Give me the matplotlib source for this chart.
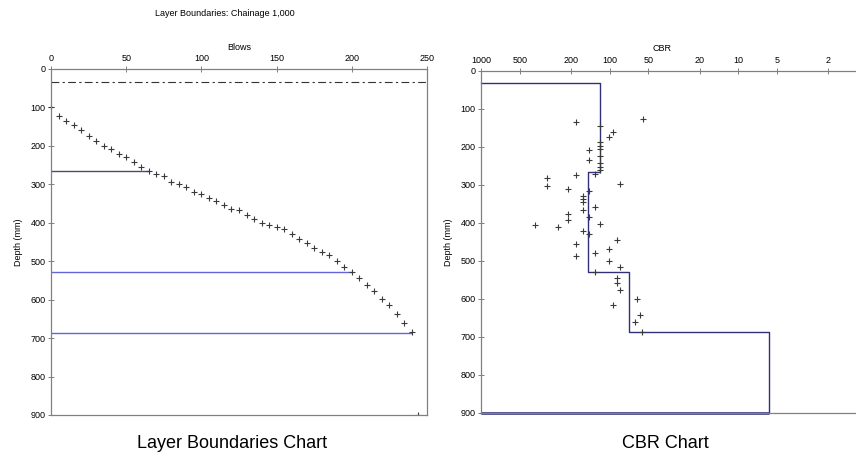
"""
DCP layer boundaries and CBR profile, chainage 1,000.
Left: cumulative blows vs depth with layer boundaries.
Right: CBR per reading (log scale, reversed) with layer CBR steps.
"""

import matplotlib.pyplot as plt
from matplotlib.ticker import FixedLocator, NullLocator

plt.rcParams["font.family"] = ["Liberation Sans", "DejaVu Sans"]

# ---------------------------------------------------------------------------
# Data
# ---------------------------------------------------------------------------
blows = [0, 5, 10, 15, 20, 25, 30, 35, 40, 45, 50, 55, 60, 65, 70, 75, 80,
         85, 90, 95, 100, 105, 110, 115, 120, 125, 130, 135, 140, 145, 150,
         155, 160, 165, 170, 175, 180, 185, 190, 195, 200, 205, 210, 215,
         220, 225, 230, 235, 240]
blow_depth = [100, 123, 134, 146, 158, 174, 188, 199, 209, 220, 230, 243,
              255, 265, 274, 278, 294, 300, 307, 319, 326, 335, 344, 355,
              365, 368, 380, 389, 400, 406, 410, 417, 429, 441, 452, 465,
              476, 485, 500, 516, 528, 543, 561, 577, 597, 615, 637, 661,
              685]
end_blows = [244]
end_depth = [900]

surface_depth = 33
boundary_depth = [265, 528, 686]
boundary_blows = [65, 200, 240]
boundary_colors = ["#4a4a78", "#6464dc", "#6464dc"]

cbr_values = [182, 55, 119, 95, 102, 119, 119, 119, 144, 119, 144, 119, 119,
              119, 130, 182, 308, 308, 210, 83, 144, 160, 160, 160, 130, 160,
              210, 210, 144, 380, 250, 119, 160, 144, 88, 182, 102, 130, 182,
              102, 83, 130, 88, 88, 83, 61, 95, 58, 63, 56]
cbr_depth = [133, 126, 145, 160, 174, 188, 197, 204, 209, 224, 234, 242, 252,
             260, 270, 274, 281, 303, 311, 297, 317, 329, 338, 346, 358, 367,
             375, 391, 384, 405, 411, 403, 421, 430, 446, 454, 469, 480, 488,
             501, 517, 529, 545, 559, 577, 600, 616, 641, 661, 687]

layer_top = [31, 266, 530, 688]
layer_bottom = [266, 530, 688, 900]
layer_cbr = [119, 148, 70.5, 5.8]

cbr_ticks = [1000, 500, 200, 100, 50, 20, 10, 5, 2]
depth_ticks = [0, 100, 200, 300, 400, 500, 600, 700, 800, 900]

SPINE = "#808080"
MARK = "#3a3a3a"
NAVY = "#30307a"
SMALL = 6.5

fig = plt.figure(figsize=(8.56, 4.59), dpi=100)


def style_axes(ax):
    for side in ax.spines.values():
        side.set_color(SPINE)
        side.set_linewidth(0.9)
    ax.xaxis.tick_top()
    ax.xaxis.set_label_position("top")
    ax.tick_params(axis="both", which="major", direction="inout", length=4,
                   width=0.7, color=SPINE, labelsize=SMALL, pad=2)
    ax.yaxis.set_major_locator(FixedLocator(depth_ticks))
    ax.set_ylim(900, 0)


# ---------------------------------------------------------------------------
# Left: layer boundaries
# ---------------------------------------------------------------------------
ax1 = fig.add_axes([51 / 856, 1 - 415 / 459, 376 / 856, 346 / 459])
style_axes(ax1)
ax1.set_xlim(0, 250)
ax1.xaxis.set_major_locator(FixedLocator([0, 50, 100, 150, 200, 250]))

ax1.axhline(surface_depth, color="#333333", lw=0.8,
            linestyle=(0, (7, 3, 2, 3)))
ax1.hlines(boundary_depth, 0, boundary_blows, colors=boundary_colors, lw=1.0)
ax1.plot(blows, blow_depth, linestyle="none", marker="+", markersize=5,
         markeredgewidth=0.8, color=MARK, clip_on=False)
ax1.plot(end_blows, end_depth, linestyle="none", marker="+", markersize=5,
         markeredgewidth=0.8, color=MARK)

ax1.set_xlabel("Blows", fontsize=SMALL, labelpad=3)
ax1.set_ylabel("Depth (mm)", fontsize=SMALL, labelpad=5)

fig.text(225 / 856, 1 - 14 / 459, "Layer Boundaries: Chainage 1,000",
         ha="center", va="center", fontsize=SMALL)
fig.text(232 / 856, 1 - 443 / 459, "Layer Boundaries Chart",
         ha="center", va="center", fontsize=13)

# ---------------------------------------------------------------------------
# Right: CBR profile
# ---------------------------------------------------------------------------
ax2 = fig.add_axes([481 / 856, 1 - 413 / 459, 386 / 856, 342 / 459])
style_axes(ax2)
ax2.set_xscale("log")
ax2.set_xlim(1000, 1)
ax2.xaxis.set_major_locator(FixedLocator(cbr_ticks))
ax2.xaxis.set_minor_locator(NullLocator())
ax2.set_xticklabels([str(v) for v in cbr_ticks])

step_x = [1000, layer_cbr[0]]
step_y = [layer_top[0], layer_top[0]]
for cbr, top, bottom in zip(layer_cbr, layer_top, layer_bottom):
    step_x += [cbr, cbr]
    step_y += [top, bottom]
step_x.append(1000)
step_y.append(layer_bottom[-1])
ax2.plot(step_x, step_y, color=NAVY, lw=1.0, clip_on=False)
ax2.hlines(layer_bottom[-1], 1000, layer_cbr[-1], colors=NAVY, lw=1.8,
           clip_on=False)

ax2.plot(cbr_values, cbr_depth, linestyle="none", marker="+", markersize=5,
         markeredgewidth=0.8, color=MARK)

ax2.set_xlabel("CBR", fontsize=SMALL, labelpad=0)
ax2.xaxis.set_label_coords((662 - 481) / 386, 1 + (71 - 51) / 342)
ax2.set_ylabel("Depth (mm)", fontsize=SMALL, labelpad=5)

fig.text(665 / 856, 1 - 443 / 459, "CBR Chart",
         ha="center", va="center", fontsize=13)

fig.savefig("out.png", dpi=100, facecolor="white")
